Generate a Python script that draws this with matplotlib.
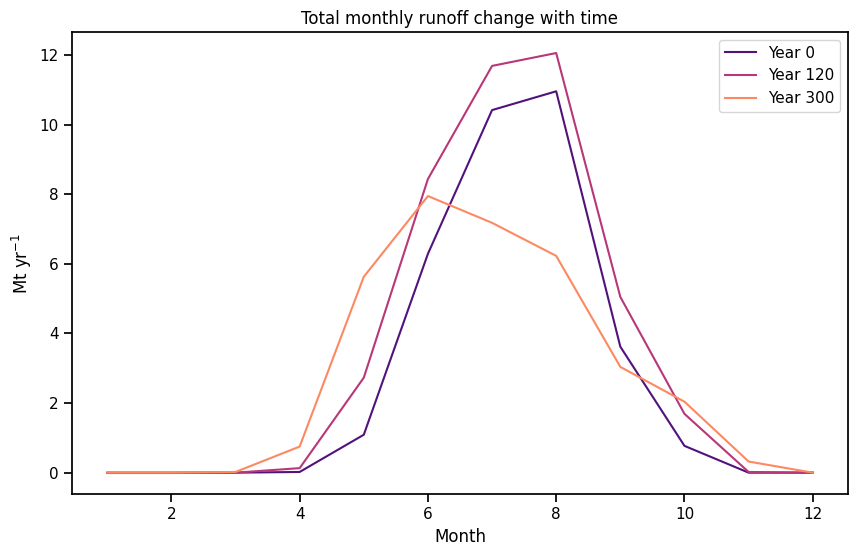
"""
Total monthly runoff for three glacier model years.
"""
import numpy as np
import seaborn as sns
from matplotlib import pyplot as plt

months = np.arange(1, 13)
years = [0, 120, 300]

# runoff in Mt/yr
runoff_year0 = [0.0, 0.0, 0.0, 0.02, 1.09, 6.29, 10.42, 10.96, 3.62, 0.77, 0.0, 0.0]
runoff_year120 = [-0.01, -0.01, 0.0, 0.13, 2.73, 8.44, 11.69, 12.06, 5.05, 1.69, 0.02, 0.0]
runoff_year300 = [0.0, 0.0, 0.02, 0.75, 5.63, 7.95, 7.18, 6.23, 3.04, 2.04, 0.32, 0.0]

sns.set_context("notebook")

fig, ax = plt.subplots(figsize=(8.57, 5.56), dpi=100)
fig.subplots_adjust(left=0.084, right=0.9895, bottom=0.1115, top=0.9424)

colors = sns.color_palette("magma", 3)
for year, runoff, color in zip(years, [runoff_year0, runoff_year120, runoff_year300], colors):
    ax.plot(months, runoff, color=color, label=f"Year {year}")

ax.set_xlabel("Month")
ax.set_ylabel(r"Mt yr$^{-1}$")
ax.set_title("Total monthly runoff change with time")
ax.legend(loc="upper right")

plt.savefig("out.png")
